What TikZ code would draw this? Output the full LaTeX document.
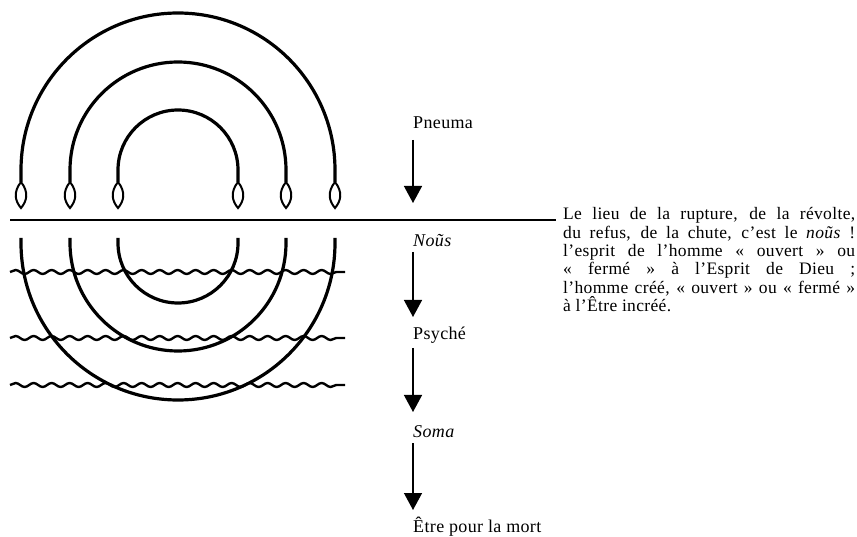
\documentclass[tikz,border=0pt]{standalone}
\usepackage{fontspec}
\setmainfont{Liberation Serif}[LetterSpace=2]
\usetikzlibrary{arrows.meta, decorations.pathmorphing, positioning, calc}

% goutte au bout d'un arc (x du centre)
\newcommand{\goutte}[1]{%
  \draw[line width=2pt] (#1,354) .. controls (#1+8,344) and (#1+6,335) .. (#1,328)
    .. controls (#1-6,335) and (#1-8,344) .. (#1,354);}

\begin{document}
\begin{tikzpicture}[x=1pt, y=1pt,
    arc/.style={line width=3.2pt},
    vague/.style={line width=2.4pt, decorate, decoration={snake, amplitude=2pt, segment length=18pt}},
    fleche/.style={line width=1.4pt, -{Triangle[length=17pt, width=18pt]}},
    etiq/.style={anchor=base west, inner sep=0pt, font=\fontsize{18}{18}\selectfont}]
    \useasboundingbox (0,0) rectangle (857,536);

    % Arcs du haut
    \foreach \r in {60,108,157} {
        \draw[arc] (178-\r,354) -- (178-\r,366) arc[start angle=180, end angle=0, radius=\r] -- (178+\r,354);
        \goutte{178-\r}
        \goutte{178+\r}
    }

    % Arcs du bas
    \foreach \r in {60,108,157}
        \draw[arc] (178-\r,298) -- (178-\r,293) arc[start angle=180, end angle=360, radius=\r] -- (178+\r,298);

    % Lignes ondulées
    \foreach \y in {264,198,151}
        \draw[vague] (10,\y) -- (345,\y);

    % Texte de droite
    \node[anchor=north west, inner sep=0pt, text width=292pt, align=justify,
          font=\fontsize{17.5}{18.3}\selectfont] (rupture) at (563,328.5)
        {Le lieu de la rupture, de la révolte,\linebreak
         du refus, de la chute, c'est le \textit{noũs}~!\linebreak
         l'esprit de l'homme «~ouvert~» ou\linebreak
         «~fermé~» à l'Esprit de Dieu~;\linebreak
         l'homme créé, «~ouvert~» ou «~fermé~»\linebreak
         à l'Être incréé.};

    % Ligne de rupture
    \coordinate (gauche) at (10,316);
    \draw[line width=1.6pt] (gauche) -- ([xshift=-7pt]gauche -| rupture.west);

    % Étiquettes
    \node[etiq] (pneuma) at (413,407) {Pneuma};
    \node[etiq] (nous)   at (413,289) {\textit{Noũs}};
    \node[etiq] (psyche) at (413,196) {Psyché};
    \node[etiq] (soma)   at (413,99)  {\textit{Soma}};
    \node[etiq] (etre)   at (413,4)   {Être pour la mort};

    % Flèches
    \draw[fleche] ([yshift=-11pt]pneuma.base west) -- ([yshift=44pt]nous.base west);
    \draw[fleche] ([yshift=-5pt]nous.base west) -- ([yshift=23pt]psyche.base west);
    \draw[fleche] ([yshift=-8pt]psyche.base west) -- ([yshift=25pt]soma.base west);
    \draw[fleche] ([yshift=-6pt]soma.base west) -- ([yshift=22pt]etre.base west);
\end{tikzpicture}
\end{document}
